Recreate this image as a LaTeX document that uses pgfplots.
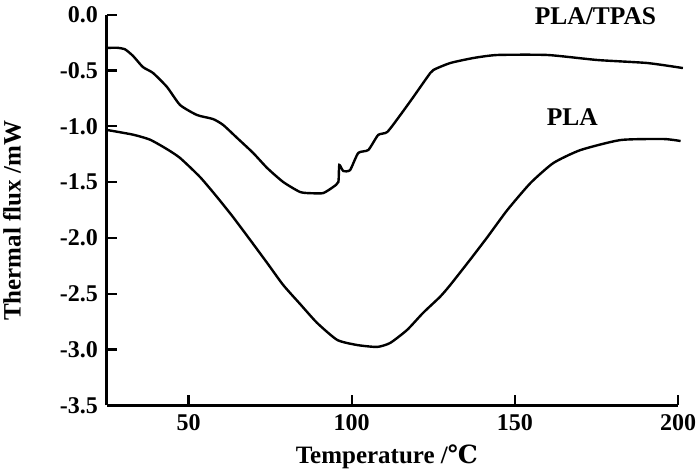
\documentclass[border=0pt]{standalone}
\usepackage{pgfplots}
\pgfplotsset{compat=1.18}
\usepackage{fontspec}
\setmainfont{Liberation Serif}
\newfontfamily\symfont{DejaVu Serif}

\begin{document}
\begin{tikzpicture}
% 1 px of the reference = 0.5pt
\path[use as bounding box] (-53.5pt,-33.35pt) rectangle (295pt,202.65pt);
\begin{axis}[
  at={(0,0)}, anchor=south west,
  scale only axis, width=285.5pt, height=195.3pt,
  xmin=25, xmax=200, ymin=-3.5, ymax=0,
  axis x line=bottom, axis y line=left,
  axis line style={-, line width=1.5pt},
  tick style={line width=1.1pt, black},
  tick align=inside, major tick length=5pt,
  xtick={50,100,150,200}, xticklabels={50,100,150,200},
  ytick={-3.5,-3,-2.5,-2,-1.5,-1,-0.5,0},
  yticklabels={-3.5,-3.0,-2.5,-2.0,-1.5,-1.0,-0.5,0.0},
  ticklabel style={font=\fontsize{12}{14}\selectfont\bfseries},
  yticklabel style={xshift=-1pt},
  xticklabel style={yshift=-1pt},
  xlabel={Temperature /{\symfont ℃}},
  ylabel={Thermal flux /mW},
  label style={font=\fontsize{12.5}{15}\selectfont\bfseries},
  xlabel style={at={([yshift=-25.8pt]axis description cs:0.49,0)}, anchor=center},
  ylabel style={at={([xshift=-47.5pt]axis description cs:0,0.472)}, anchor=center},
  clip=false,
]
% PLA/TPAS
\addplot[black, line width=1.2pt, smooth, tension=0.35] coordinates {
(25,-0.298) (28,-0.296) (30.5,-0.31) (33,-0.37) (36.0,-0.469) (39.1,-0.522) (43.4,-0.648)
(47.4,-0.809) (52.6,-0.899) (57.5,-0.935) (60.6,-0.988) (64.9,-1.105)
(69.8,-1.239) (74.1,-1.374) (79.0,-1.499) (84.2,-1.589) (88,-1.600) (91.3,-1.598)
(94.3,-1.544) (95.9,-1.499) (96.2,-1.347) (97.4,-1.400) (99.5,-1.392)
(102.0,-1.239) (105.1,-1.212) (108.1,-1.078) (110.9,-1.051) (114.9,-0.899)
(118.9,-0.737) (123.2,-0.558) (125.0,-0.496) (130.2,-0.433) (137.3,-0.388)
(144.6,-0.361) (160.0,-0.361) (175.3,-0.406) (190.6,-0.433) (201.5,-0.478)
};
% PLA
\addplot[black, line width=1.2pt, smooth, tension=0.35] coordinates {
(25,-1.033) (33.0,-1.075) (38.2,-1.12) (43.4,-1.205) (47.4,-1.284)
(53.5,-1.454) (58.7,-1.633) (63.6,-1.812) (68.9,-2.019) (74.1,-2.225)
(79.0,-2.422) (84.2,-2.593) (89.4,-2.762) (95.6,-2.915) (101.7,-2.960)
(107.8,-2.977) (111.8,-2.941) (117.0,-2.824) (121.9,-2.671) (127.1,-2.527)
(130.2,-2.422) (136.3,-2.195) (141.6,-1.992) (147.7,-1.750) (154.8,-1.508)
(161.8,-1.329) (170.1,-1.213) (182.4,-1.123) (195.6,-1.114) (200.8,-1.132)
};
\node[font=\fontsize{12.75}{15}\selectfont\bfseries] at (axis cs:174.7,-0.01) {PLA/TPAS};
\node[font=\fontsize{12.75}{15}\selectfont\bfseries] at (axis cs:167.6,-0.918) {PLA};
\end{axis}
\end{tikzpicture}
\end{document}
